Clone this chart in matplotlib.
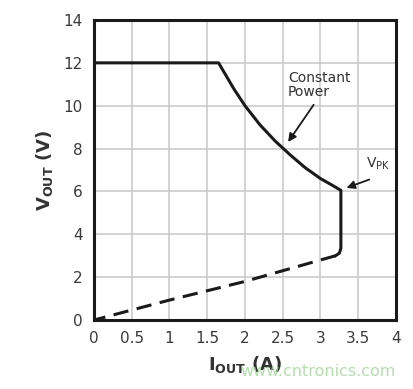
import matplotlib
matplotlib.use("Agg")
import matplotlib.pyplot as plt

# Solid portion: constant voltage then constant power, then current limit
i_solid = [0.0, 1.65, 1.75, 1.85, 2.0, 2.2, 2.4, 2.6, 2.8, 3.0, 3.15, 3.27, 3.27, 3.27, 3.25, 3.2]
v_solid = [12.0, 12.0, 11.4, 10.8, 10.0, 9.1, 8.35, 7.7, 7.1, 6.6, 6.3, 6.05, 4.5, 3.35, 3.12, 3.0]
# Dashed foldback portion
i_dash = [3.2, 3.0, 2.0, 1.0, 0.0]
v_dash = [3.0, 2.8, 1.8, 0.93, 0.0]

x_ticks = [0, 0.5, 1, 1.5, 2, 2.5, 3, 3.5, 4]
x_labels = ["0", "0.5", "1", "1.5", "2", "2.5", "3", "3.5", "4"]
y_ticks = [0, 2, 4, 6, 8, 10, 12, 14]

fig = plt.figure(figsize=(4.14, 3.89), dpi=100)
ax = fig.add_axes([94/414, 1 - 320/389, 302/414, 300/389])

ax.plot(i_solid, v_solid, color="#1a1a1a", lw=2.2, solid_joinstyle="round", zorder=3)
ax.plot(i_dash, v_dash, color="#1a1a1a", lw=2.2, dashes=(5, 2.8), zorder=3)

ax.set_xlim(0, 4)
ax.set_ylim(0, 14)
ax.set_xticks(x_ticks)
ax.set_xticklabels(x_labels)
ax.set_yticks(y_ticks)
ax.grid(True, color="#c8c8c8", lw=1.1)
ax.set_axisbelow(True)
for s in ax.spines.values():
    s.set_linewidth(2.2)
    s.set_color("#1a1a1a")
ax.tick_params(length=0, labelsize=11, colors="#3a3a3a", pad=8)

ax.set_ylabel(r"$\mathbf{V_{OUT}}$ (V)", fontsize=13, fontweight="bold", color="#333333", labelpad=6)
ax.set_xlabel(r"$\mathbf{I_{OUT}}$ (A)", fontsize=13, fontweight="bold", color="#333333", labelpad=6)

ax.text(2.57, 11.6, "Constant\nPower", fontsize=10, color="#333333", va="top", ha="left", linespacing=1.0)
ax.annotate("", xy=(2.55, 8.2), xytext=(2.93, 10.15),
            arrowprops=dict(arrowstyle="-|>", color="#1a1a1a", lw=1.3, mutation_scale=12))
ax.text(3.6, 6.9, r"V$_{\mathrm{PK}}$", fontsize=10, color="#333333", ha="left", va="bottom")
ax.annotate("", xy=(3.31, 6.12), xytext=(3.68, 6.6),
            arrowprops=dict(arrowstyle="-|>", color="#1a1a1a", lw=1.3, mutation_scale=12))

fig.text(396/414, 0.045, "www.cntronics.com", fontsize=11.5, color="#a8d8a0", alpha=0.85,
         ha="right", va="center")

fig.savefig("out.png", dpi=100)
